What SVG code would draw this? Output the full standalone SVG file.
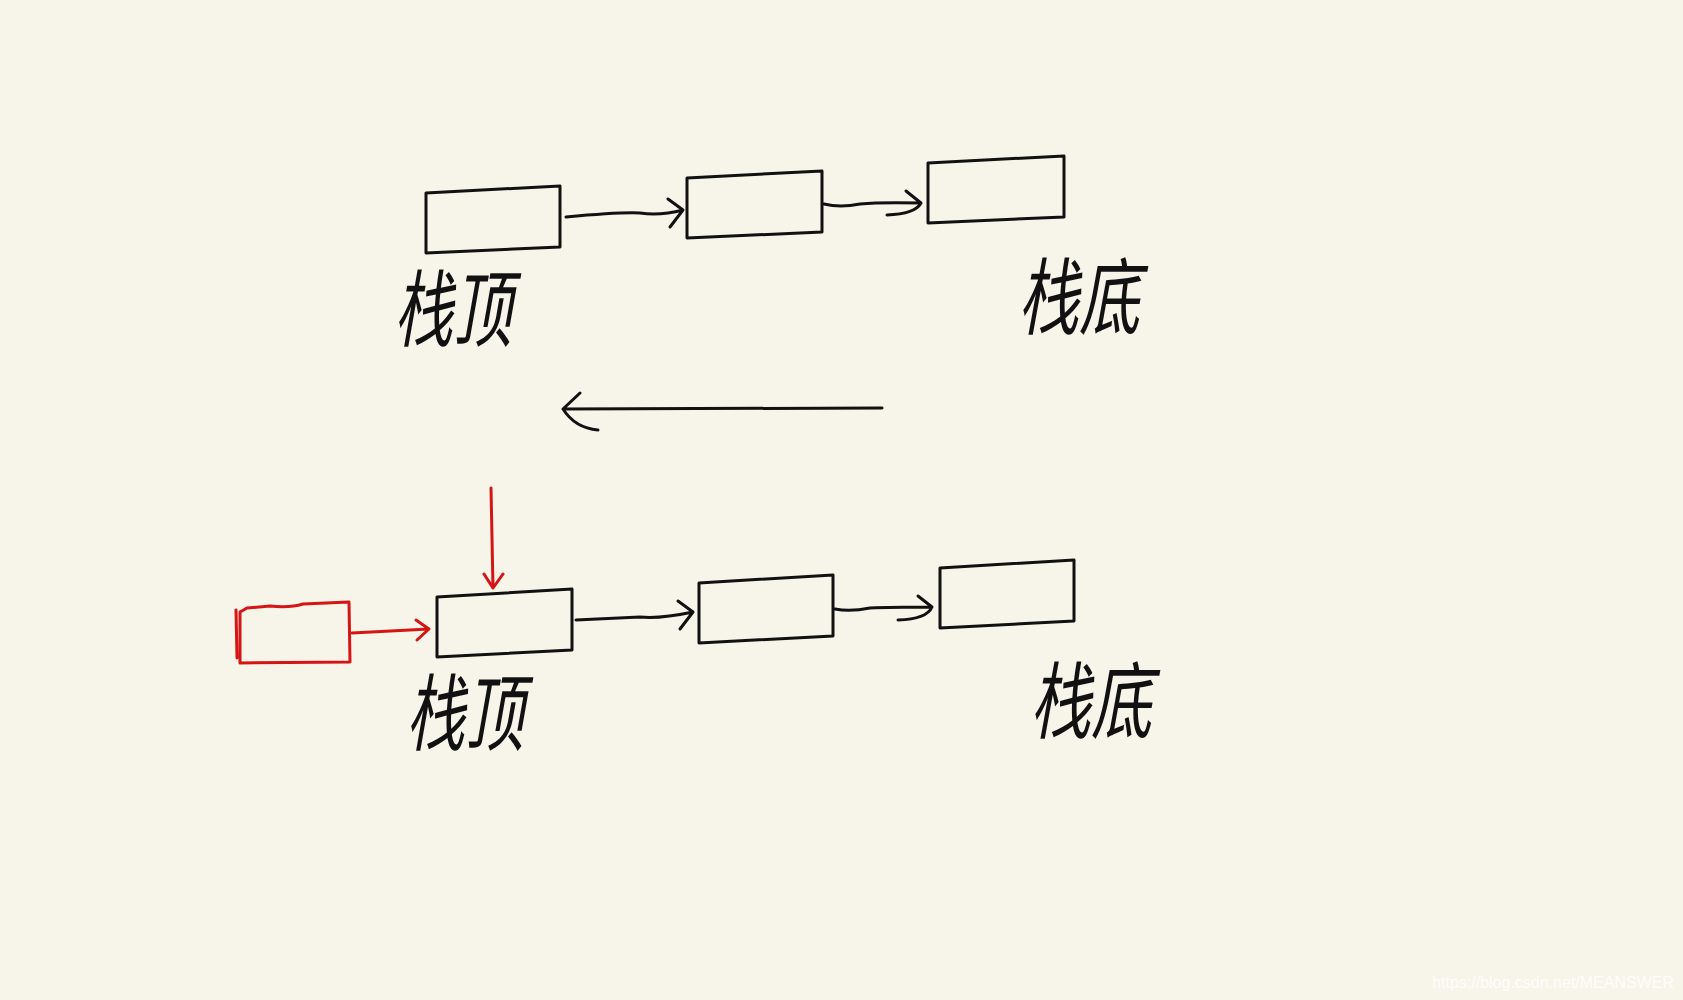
<svg xmlns="http://www.w3.org/2000/svg" width="1683" height="1000" viewBox="0 0 1683 1000">
<defs>
<style>
.b{fill:none;stroke:#111;stroke-width:3;stroke-linejoin:round}
.r{fill:none;stroke:#d51515;stroke-width:3;stroke-linejoin:round;stroke-linecap:round}
.c{fill:none;stroke:#111;stroke-width:3;stroke-linecap:round;stroke-linejoin:round}
.t{font-family:"Noto Sans CJK SC","Liberation Sans",sans-serif;font-size:84px;fill:#111;font-style:italic}
</style>
</defs>
<rect width="1683" height="1000" fill="#f7f5e9"/>
<g id="top1"><polygon class="b" points="426,193 560,186 560,247 426,253"/><text class="t" x="394" y="340" textLength="118" lengthAdjust="spacingAndGlyphs">栈顶</text></g>
<g id="top2"><polygon class="b" points="687,178 822,171 822,232 687,238"/></g>
<g id="top3"><polygon class="b" points="928,163 1064,156 1064,217 928,223"/><text class="t" x="1018" y="328" textLength="122" lengthAdjust="spacingAndGlyphs">栈底</text></g>
<g id="bot1"><polygon class="b" points="437,597 572,589 572,650 437,657"/><text class="t" x="406" y="744" textLength="118" lengthAdjust="spacingAndGlyphs">栈顶</text></g>
<g id="bot2"><polygon class="b" points="699,583 833,575 833,636 699,643"/></g>
<g id="bot3"><polygon class="b" points="940,568 1074,560 1074,621 940,628"/><text class="t" x="1030" y="732" textLength="122" lengthAdjust="spacingAndGlyphs">栈底</text></g>
<g id="new"><path class="r" d="M240,612 L240,663 L350,662 L349,602 L303,604 Q290,608 270,606 L247,608 L240,612 M236,610 L237,658"/></g>
<g id="connectors">
<path class="c" d="M566,217 Q620,212 640,213 Q660,216 683,210 M668,199 L683,210 L670,227"/>
<path class="c" d="M824,204 Q840,208 860,204 Q880,202 921,203 M906,191 L921,203 Q915,214 887,215"/>
<path class="c" d="M882,408 L563,409 M580,393 L563,409 Q575,428 598,430"/>
<path class="c" d="M576,620 Q620,618 640,617 Q660,619 693,612 M678,601 L693,612 L680,629"/>
<path class="c" d="M835,609 Q850,612 870,608 Q890,607 932,607 M918,596 L932,607 Q927,619 898,620"/>
<path class="r" d="M491,488 L493,588 M484,574 L493,588 L503,574"/>
<path class="r" d="M352,633 Q390,631 429,629 M416,620 L429,629 L417,640"/>
</g>
<text x="1674" y="988" text-anchor="end" font-family="Liberation Sans,sans-serif" font-size="16" fill="#ffffff" opacity="0.9">https://blog.csdn.net/MEANSWER</text>
</svg>
